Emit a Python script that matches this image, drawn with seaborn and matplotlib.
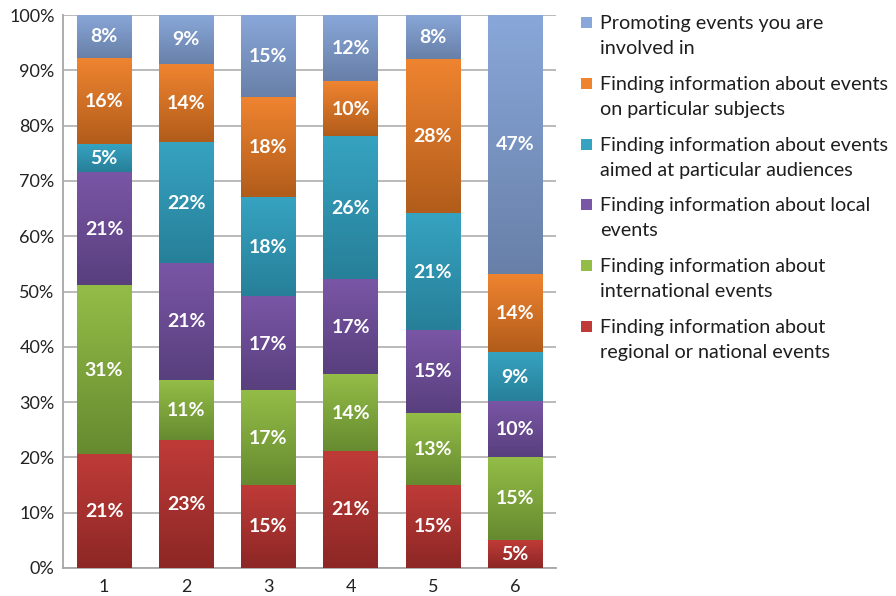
import numpy as np
import matplotlib
matplotlib.use("Agg")
import matplotlib.pyplot as plt
import seaborn as sns
from matplotlib.colors import LinearSegmentedColormap
from matplotlib.patches import Rectangle

# Survey groups on the x axis
groups = ["1", "2", "3", "4", "5", "6"]

# Answer shares per group (percent), stacked bottom to top
regional = [21, 23, 15, 21, 15, 5]
international = [31, 11, 17, 14, 13, 15]
local = [21, 21, 17, 17, 15, 10]
audiences = [5, 22, 18, 26, 21, 9]
subjects = [16, 14, 18, 10, 28, 14]
promoting = [8, 9, 15, 12, 8, 47]

series_names = [
    ["Finding information about", "regional or national events"],
    ["Finding information about", "international events"],
    ["Finding information about local", "events"],
    ["Finding information about events", "aimed at particular audiences"],
    ["Finding information about events", "on particular subjects"],
    ["Promoting events you are", "involved in"],
]
series_values = [regional, international, local, audiences, subjects, promoting]

# (top, bottom) colours of the vertical gradient for each series
series_colors = [
    ("#BF3B38", "#8C2725"),
    ("#93BD47", "#668A30"),
    ("#7A56A6", "#583F7D"),
    ("#36A3C1", "#277F98"),
    ("#EF8430", "#B15C1B"),
    ("#89A7D9", "#6880A8"),
]

sns.set_theme(style="white")
plt.rcParams["font.family"] = ["Lato", "DejaVu Sans"]

W, H = 896, 596
fig = plt.figure(figsize=(W / 100, H / 100), dpi=100)
ax = fig.add_axes([63 / W, 1 - 568 / H, (556 - 63) / W, (568 - 15) / H])

vals = np.array(series_values, dtype=float)
shares = vals / vals.sum(axis=0) * 100.0
tops = np.cumsum(shares, axis=0)
bottoms = tops - shares

# Draw cumulative bars from the top series down so lower series sit in front
n_series = len(series_values)
for k in range(n_series - 1, -1, -1):
    sns.barplot(x=groups, y=tops[k], color=series_colors[k][0], width=0.66,
                saturation=1, ax=ax, zorder=2)

# Replace each visible segment with a vertical gradient and its value label
grad = np.linspace(0, 1, 256).reshape(-1, 1)
patches = list(ax.patches)
for idx, p in enumerate(patches):
    k = n_series - 1 - idx // len(groups)
    j = idx % len(groups)
    x0, w = p.get_x(), p.get_width()
    y0, y1 = bottoms[k, j], tops[k, j]
    top_c, bot_c = series_colors[k]
    cmap = LinearSegmentedColormap.from_list(f"g{k}", [bot_c, top_c])
    ax.imshow(grad, extent=[x0, x0 + w, y0, y1], origin="lower", aspect="auto",
              cmap=cmap, zorder=3, interpolation="bilinear")
    p.set_visible(False)
    ax.text(x0 + w / 2, (y0 + y1) / 2, f"{series_values[k][j]}%", ha="center",
            va="center", color="white", fontsize=14, fontweight="bold", zorder=4)

ax.set_xlim(-0.5, len(groups) - 0.5)
ax.set_ylim(0, 100)
ax.set_yticks(np.arange(0, 101, 10))
ax.set_yticklabels([f"{t}%" for t in range(0, 101, 10)])
ax.set_xlabel("")
ax.set_ylabel("")
ax.yaxis.grid(True, color="#B4B4B4", linewidth=1.3)
ax.set_axisbelow(True)
ax.tick_params(axis="both", length=0, labelsize=13, labelcolor="#222222")
ax.tick_params(axis="y", pad=6)
ax.tick_params(axis="x", pad=8)
for s in ["top", "right"]:
    ax.spines[s].set_visible(False)
for s in ["left", "bottom"]:
    ax.spines[s].set_color("#A6A6A6")
    ax.spines[s].set_linewidth(1.3)

# Legend: top series first, square key aligned with the first text line
first_baseline = 29
entry_pitch = 60.8
line_pitch = 25
for i, k in enumerate(range(n_series - 1, -1, -1)):
    base = first_baseline + i * entry_pitch
    fig.patches.append(Rectangle((581 / W, 1 - (base - 1) / H), 11 / W, 11 / H,
                                 transform=fig.transFigure, facecolor=series_colors[k][0],
                                 edgecolor="none"))
    for li, line in enumerate(series_names[k]):
        fig.text(600 / W, 1 - (base + li * line_pitch) / H, line, ha="left",
                 va="baseline", fontsize=14.2, color="#1E1E1E")

fig.savefig("out.png", dpi=100)
